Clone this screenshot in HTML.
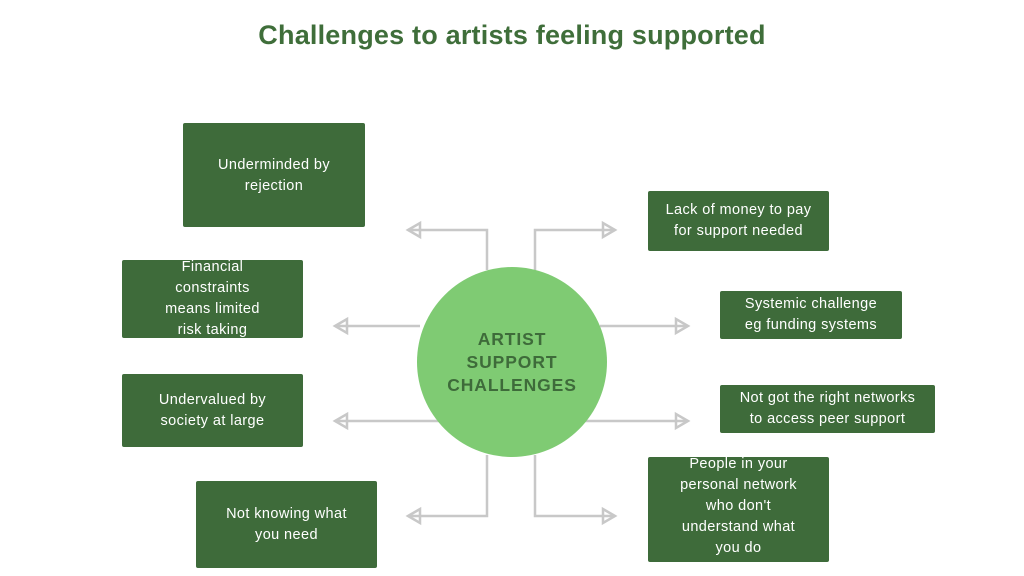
<!DOCTYPE html>
<html><head><style>
body{margin:0;width:1024px;height:576px;background:#fff;position:relative;overflow:hidden;font-family:"Liberation Sans",sans-serif}
.t{position:absolute;left:0;width:1024px;top:20px;text-align:center;font-size:27px;font-weight:bold;color:#3f6e3a;letter-spacing:0.2px}
.b{position:absolute;background:#3e6b3a;color:#fff;font-size:14.5px;line-height:21px;display:flex;align-items:center;justify-content:center;text-align:center;border-radius:2px;letter-spacing:0.4px}
.c{position:absolute;left:417px;top:267px;width:190px;height:190px;border-radius:50%;background:#7fcb73;display:flex;align-items:center;justify-content:center;text-align:center;color:#3e6b3a;font-weight:bold;font-size:17.5px;line-height:23px;letter-spacing:0.9px}
svg{position:absolute;left:0;top:0}
</style></head><body>
<div class="t">Challenges to artists feeling supported</div>
<svg width="1024" height="576" fill="none" stroke="#c8c8c8" stroke-width="2.5">
<polyline points="487,270 487,230 410,230"/><polygon points="408,230 420,223 420,237"/>
<polyline points="535,270 535,230 613,230"/><polygon points="615,230 603,223 603,237"/>
<line x1="420" y1="326" x2="337" y2="326"/><polygon points="335,326 347,319 347,333"/>
<line x1="600" y1="326" x2="686" y2="326"/><polygon points="688,326 676,319 676,333"/>
<line x1="440" y1="421" x2="337" y2="421"/><polygon points="335,421 347,414 347,428"/>
<line x1="585" y1="421" x2="686" y2="421"/><polygon points="688,421 676,414 676,428"/>
<polyline points="487,455 487,516 410,516"/><polygon points="408,516 420,509 420,523"/>
<polyline points="535,455 535,516 613,516"/><polygon points="615,516 603,509 603,523"/>
</svg>
<div class="c">ARTIST<br>SUPPORT<br>CHALLENGES</div>
<div class="b" style="left:183px;top:123px;width:182px;height:104px;align-items:flex-start;padding-top:32px;box-sizing:border-box">Underminded by<br>rejection</div>
<div class="b" style="left:122px;top:260px;width:181px;height:78px">Financial<br>constraints<br>means limited<br>risk taking</div>
<div class="b" style="left:122px;top:374px;width:181px;height:73px">Undervalued by<br>society at large</div>
<div class="b" style="left:196px;top:481px;width:181px;height:87px">Not knowing what<br>you need</div>
<div class="b" style="left:648px;top:191px;width:181px;height:60px">Lack of money to pay<br>for support needed</div>
<div class="b" style="left:720px;top:291px;width:182px;height:48px">Systemic challenge<br>eg funding systems</div>
<div class="b" style="left:720px;top:385px;width:215px;height:48px">Not got the right networks<br>to access peer support</div>
<div class="b" style="left:648px;top:457px;width:181px;height:105px;padding-bottom:6px;box-sizing:border-box">People in your<br>personal network<br>who don't<br>understand what<br>you do</div>
</body></html>
